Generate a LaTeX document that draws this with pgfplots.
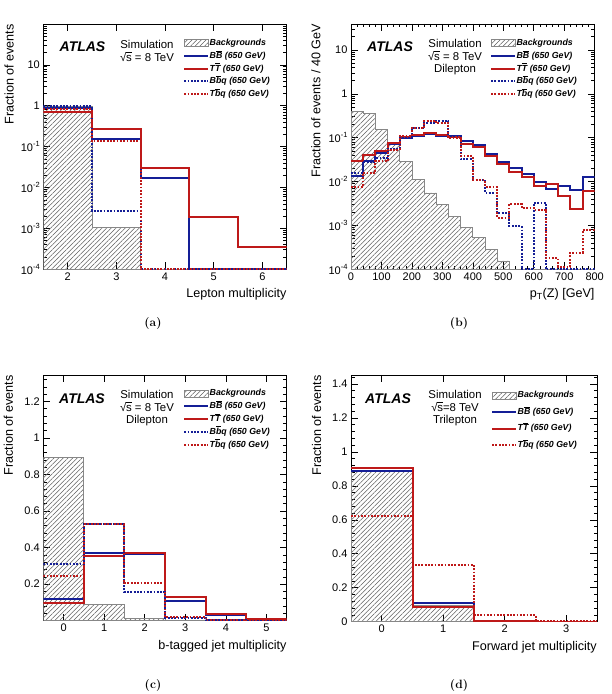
\documentclass[border=0pt]{standalone}
\usepackage{fontspec}
\usepackage{pgfplots}
\pgfplotsset{compat=1.18}
\usetikzlibrary{patterns,patterns.meta}
\newfontfamily\hv{Liberation Sans}

\definecolor{bbblue}{RGB}{20,30,150}
\definecolor{ttred}{RGB}{190,25,25}
\definecolor{bkggray}{RGB}{95,95,95}

% exponent labels in the ROOT style: 10 with a raised power
\newcommand\dec[1]{10\raisebox{0.5em}{\fontsize{7.5}{7.5}\selectfont#1}}
% overline on a single letter in legend entries
\newcommand\ovl[1]{$\overline{\mbox{#1}}$}
% square root of s built from the text font's radical sign and a bar
\newcommand\sqrts{√\kern-0.02em\rlap{\rule[0.76em]{0.5em}{0.06em}}s}

\pgfplotsset{
  atlas/.style={
    scale only axis, anchor=south west,
    width=243.4pt, height=245.3pt,
    axis line style={line width=0.8pt},
    every tick/.style={black, line width=0.6pt},
    major tick length=7pt, minor tick length=3.5pt,
    tick align=inside,
    tick label style={font=\hv\fontsize{11}{11}\selectfont},
    /pgf/number format/assume math mode=true,
    label style={font=\hv\fontsize{12.6}{13}\selectfont},
    xlabel style={at={(axis description cs:1,-0.078)}, anchor=north east, inner sep=0pt},
    ylabel style={at={(axis description cs:-0.14,1)}, anchor=east, inner sep=0pt},
    legend cell align=left,
    legend style={draw=none, fill=none, anchor=north west, inner sep=0pt,
      font=\hv\bfseries\itshape\fontsize{8.8}{10}\selectfont,
      nodes={inner sep=0.5pt, text height=6.5pt, text depth=1.8pt},
      row sep=3.5pt},
    const plot,
  },
  bkg/.style={draw=bkggray!75, line width=0.8pt,
    pattern={Lines[angle=45,distance=3.3pt,line width=0.55pt]}, pattern color=bkggray,
    legend image code/.code={\draw[##1] (0pt,-3.5pt) rectangle (24pt,3.5pt);}},
  histline/.style={line width=2pt,
    legend image code/.code={\draw[##1] (0pt,0pt) -- (24pt,0pt);}},
  bb/.style={histline, bbblue},
  tt/.style={histline, ttred},
  bbq/.style={histline, bbblue, dash pattern=on 1.8pt off 1.5pt},
  tbq/.style={histline, ttred, dash pattern=on 1.8pt off 1.5pt},
  logminor/.style={minor ytick={2e-4,3e-4,4e-4,5e-4,6e-4,7e-4,8e-4,9e-4,
    2e-3,3e-3,4e-3,5e-3,6e-3,7e-3,8e-3,9e-3,0.02,0.03,0.04,0.05,0.06,0.07,0.08,0.09,
    0.2,0.3,0.4,0.5,0.6,0.7,0.8,0.9,2,3,4,5,6,7,8,9,20,30,40,50,60,70,80,90}},
  linminor/.style={minor ytick={0.04,0.08,0.12,0.16,0.24,0.28,0.32,0.36,0.44,0.48,0.52,0.56,
    0.64,0.68,0.72,0.76,0.84,0.88,0.92,0.96,1.04,1.08,1.12,1.16,1.24,1.28,1.32,1.36,1.44}},
}
\tikzset{
  atlaslabel/.style={anchor=west, inner sep=0pt, font=\hv\bfseries\itshape\fontsize{14}{14}\selectfont},
  infotext/.style={inner sep=0pt, align=center, font=\hv\fontsize{11.4}{12.6}\selectfont},
  subcap/.style={font=\fontsize{12}{14}\selectfont\bfseries},
}

\begin{document}
\begin{tikzpicture}
\path[use as bounding box] (0,0) rectangle (612pt,694pt);

% ---------------- (a) lepton multiplicity ----------------
\begin{axis}[atlas, at={(43.3pt,424.7pt)},
  ymode=log, xmin=1.5, xmax=6.5, ymin=1e-4, ymax=100,
  xtick={2,3,4,5,6}, xticklabels={2,3,4,5,6},
  ytick={1e-4,1e-3,1e-2,1e-1,1,10,100},
  yticklabels={\dec{-4},\dec{-3},\dec{-2},\dec{-1},1,10,{}},
  logminor,
  xlabel={Lepton multiplicity}, ylabel={Fraction of events},
  legend style={at={(axis description cs:0.574,0.942)}}]
\addplot[bkg] coordinates {(1.5,1e-4) (1.5,0.97) (2.5,1.07e-3) (3.5,1e-4) (4.5,1e-4) (5.5,1e-4) (6.5,1e-4)} -- cycle;
\addlegendentry{Backgrounds}
\addplot[bb] coordinates {(1.5,0.87) (2.5,0.15) (3.5,0.0168) (4.5,1e-4) (5.5,1e-4) (6.5,1e-4)};
\addlegendentry{B\ovl{B} (650 GeV)}
\addplot[tt] coordinates {(1.5,0.72) (2.5,0.27) (3.5,0.0295) (4.5,0.0019) (5.5,3.45e-4) (6.5,3.45e-4)};
\addlegendentry{T\ovl{T} (650 GeV)}
\addplot[bbq] coordinates {(1.5,0.98) (2.5,2.7e-3) (3.5,1e-4) (4.5,1e-4) (5.5,1e-4) (6.5,1e-4)};
\addlegendentry{B\ovl{b}q (650 GeV)}
\addplot[tbq] coordinates {(1.5,0.83) (2.5,0.135) (3.5,1e-4) (4.5,1e-4) (5.5,1e-4) (6.5,1e-4)};
\addlegendentry{T\ovl{b}q (650 GeV)}
\node[atlaslabel] at (axis description cs:0.0666,0.906) {ATLAS};
\node[infotext] at (axis description cs:0.426,0.889) {Simulation\\\sqrts{} = 8 TeV};
\end{axis}

% ---------------- (b) pT(Z) ----------------
\begin{axis}[atlas, at={(351pt,424.7pt)}, width=243.7pt,
  ymode=log, xmin=0, xmax=800, ymin=1e-4, ymax=39,
  xtick={0,100,200,300,400,500,600,700,800},
  xticklabels={0,100,200,300,400,500,600,700,800},
  minor x tick num=4,
  ytick={1e-4,1e-3,1e-2,1e-1,1,10},
  yticklabels={\dec{-4},\dec{-3},\dec{-2},\dec{-1},1,10},
  logminor,
  xlabel={p\textsubscript{T}(Z) [GeV]}, ylabel={Fraction of events / 40 GeV},
  ylabel style={at={(axis description cs:-0.144,1)}},
  legend style={at={(axis description cs:0.570,0.942)}}]
\addplot[bkg] coordinates {(0,1e-4) (0,0.40) (40,0.35) (80,0.155) (120,0.077) (160,0.029) (200,0.011) (240,0.0055) (280,0.0030) (320,0.0016) (360,8.9e-4) (400,5.3e-4) (440,2.85e-4) (480,1.55e-4) (520,1e-4) (800,1e-4)} -- cycle;
\addlegendentry{Backgrounds}
\addplot[bb] coordinates {(0,0.0137) (40,0.029) (80,0.044) (120,0.070) (160,0.100) (200,0.108) (240,0.120) (280,0.112) (320,0.107) (360,0.085) (400,0.068) (440,0.043) (480,0.028) (520,0.020) (560,0.015) (600,0.010) (640,0.0068) (680,0.0080) (720,0.0064) (760,0.0125) (800,0.0125)};
\addlegendentry{B\ovl{B} (650 GeV)}
\addplot[tt] coordinates {(0,0.029) (40,0.040) (80,0.051) (120,0.076) (160,0.102) (200,0.115) (240,0.125) (280,0.113) (320,0.105) (360,0.073) (400,0.060) (440,0.038) (480,0.025) (520,0.0165) (560,0.0125) (600,0.0078) (640,0.0088) (680,0.0046) (720,0.0024) (760,0.0060) (800,0.0060)};
\addlegendentry{T\ovl{T} (650 GeV)}
\addplot[bbq] coordinates {(0,0.016) (40,0.028) (80,0.034) (120,0.056) (160,0.100) (200,0.166) (240,0.22) (280,0.235) (320,0.108) (360,0.032) (400,0.011) (440,0.0055) (480,0.0019) (520,9.6e-4) (560,1e-4) (600,0.0033) (640,1e-4) (800,1e-4)};
\addlegendentry{B\ovl{b}q (650 GeV)}
\addplot[tbq] coordinates {(0,0.0076) (40,0.016) (80,0.029) (120,0.053) (160,0.110) (200,0.166) (240,0.245) (280,0.215) (320,0.100) (360,0.0376) (400,0.0107) (440,0.0076) (480,0.0015) (520,0.0031) (560,0.0025) (600,0.0023) (640,1.8e-4) (680,1.15e-4) (720,2.4e-4) (760,7.8e-4) (800,7.8e-4)};
\addlegendentry{T\ovl{b}q (650 GeV)}
\node[atlaslabel] at (axis description cs:0.0657,0.906) {ATLAS};
\node[infotext] at (axis description cs:0.427,0.864) {Simulation\\\sqrts{} = 8 TeV\\Dilepton};
\end{axis}

% ---------------- (c) b-tagged jet multiplicity ----------------
\begin{axis}[atlas, at={(43.3pt,73.3pt)}, height=245.7pt,
  xmin=-0.5, xmax=5.5, ymin=0, ymax=1.345,
  xtick={0,1,2,3,4,5}, xticklabels={0,1,2,3,4,5},
  ytick={0,0.2,0.4,0.6,0.8,1,1.2}, yticklabels={,0.2,0.4,0.6,0.8,1,1.2},
  linminor,
  xlabel={b-tagged jet multiplicity}, ylabel={Fraction of events},
  ylabel style={at={(axis description cs:-0.144,1)}},
  legend style={at={(axis description cs:0.574,0.944)}}]
\addplot[bkg] coordinates {(-0.5,0) (-0.5,0.894) (0.5,0.089) (1.5,0.011) (2.5,0.002) (3.5,0.0005) (4.5,0) (5.5,0)} -- cycle;
\addlegendentry{Backgrounds}
\addplot[bb] coordinates {(-0.5,0.12) (0.5,0.372) (1.5,0.363) (2.5,0.11) (3.5,0.029) (4.5,0.004) (5.5,0.004)};
\addlegendentry{B\ovl{B} (650 GeV)}
\addplot[tt] coordinates {(-0.5,0.0985) (0.5,0.354) (1.5,0.372) (2.5,0.13) (3.5,0.036) (4.5,0.007) (5.5,0.007)};
\addlegendentry{T\ovl{T} (650 GeV)}
\addplot[bbq] coordinates {(-0.5,0.31) (0.5,0.527) (1.5,0.155) (2.5,0.016) (3.5,0.004) (4.5,0) (5.5,0)};
\addlegendentry{B\ovl{b}q (650 GeV)}
\addplot[tbq] coordinates {(-0.5,0.245) (0.5,0.527) (1.5,0.204) (2.5,0.02) (3.5,0.005) (4.5,0.001) (5.5,0.001)};
\addlegendentry{T\ovl{b}q (650 GeV)}
\node[atlaslabel] at (axis description cs:0.0645,0.902) {ATLAS};
\node[infotext] at (axis description cs:0.426,0.865) {Simulation\\\sqrts{} = 8 TeV\\Dilepton};
\end{axis}

% ---------------- (d) forward jet multiplicity ----------------
\begin{axis}[atlas, at={(351pt,72.3pt)}, width=246pt, height=246.7pt,
  xmin=-0.5, xmax=3.5, ymin=0, ymax=1.453,
  xtick={0,1,2,3}, xticklabels={0,1,2,3},
  ytick={0,0.2,0.4,0.6,0.8,1,1.2,1.4}, yticklabels={0,0.2,0.4,0.6,0.8,1,1.2,1.4},
  linminor,
  xlabel={Forward jet multiplicity}, ylabel={Fraction of events},
  legend style={at={(axis description cs:0.569,0.936)}, row sep=7.2pt}]
\addplot[bkg] coordinates {(-0.5,0) (-0.5,0.885) (0.5,0.098) (1.5,0.007) (2.5,0) (3.5,0)} -- cycle;
\addlegendentry{Backgrounds}
\addplot[bb] coordinates {(-0.5,0.888) (0.5,0.108) (1.5,0.004) (2.5,0) (3.5,0)};
\addlegendentry{B\ovl{B} (650 GeV)}
\addplot[tt] coordinates {(-0.5,0.907) (0.5,0.087) (1.5,0.006) (2.5,0) (3.5,0)};
\addlegendentry{T\ovl{T} (650 GeV)}
\addplot[tbq] coordinates {(-0.5,0.62) (0.5,0.335) (1.5,0.041) (2.5,0.004) (3.5,0.004)};
\addlegendentry{T\ovl{b}q (650 GeV)}
\node[atlaslabel] at (axis description cs:0.057,0.902) {ATLAS};
\node[infotext] at (axis description cs:0.423,0.865) {Simulation\\\sqrts{}=8 TeV\\Trilepton};
\end{axis}

% sub-figure captions
\node[subcap] at (153pt,370pt) {(a)};
\node[subcap] at (459pt,370pt) {(b)};
\node[subcap] at (153pt,8pt) {(c)};
\node[subcap] at (459pt,8pt) {(d)};
\end{tikzpicture}
\end{document}
